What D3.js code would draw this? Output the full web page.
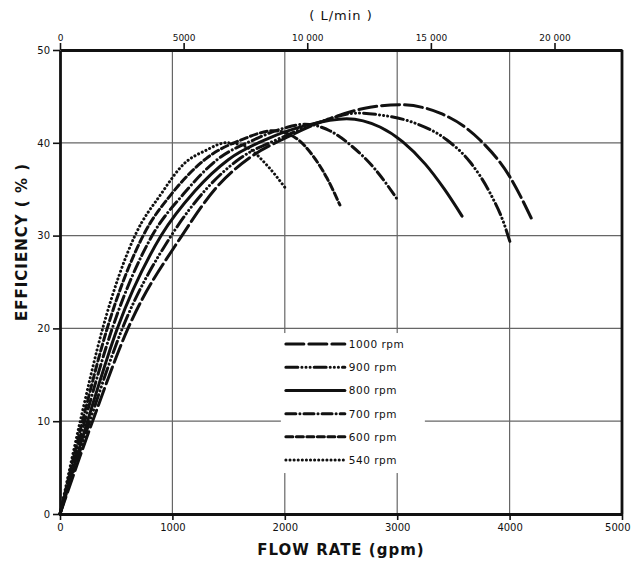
<!DOCTYPE html>
<html>
<head>
<meta charset="utf-8">
<script src="https://cdn.jsdelivr.net/npm/d3@7"></script>
<style>
  body { margin: 0; background: #fff; }
  svg text { font-family: "DejaVu Sans", sans-serif; fill: #111; }
</style>
</head>
<body>
<div id="chart"></div>
<script>
// chart values
const rpmLabels = ["1000 rpm", "900 rpm", "800 rpm", "700 rpm", "600 rpm", "540 rpm"];

// flow rate (gpm) and efficiency (%) for each speed
const flow1000 = [0, 290, 605, 1085, 1400, 1700, 2020, 2400, 2700, 3025, 3381, 3737, 4004, 4200];
const eff1000  = [0, 10, 20, 30, 35.3, 38.5, 40.6, 42.6, 43.7, 44.1, 43.2, 40.3, 36.3, 31.7];

const flow900 = [0, 265, 555, 990, 1300, 1600, 1960, 2300, 2650, 2847, 3140, 3443, 3650, 3830, 3950, 4004];
const eff900  = [0, 10, 20, 30, 35, 38.3, 40.5, 42.2, 43.2, 43.0, 42.2, 40.3, 37.9, 34.5, 31.3, 29.3];

const flow800 = [0, 245, 510, 900, 1200, 1500, 1840, 2200, 2550, 2847, 3050, 3250, 3420, 3577];
const eff800  = [0, 10, 20, 30, 34.8, 38.2, 40.4, 41.9, 42.6, 41.7, 40.1, 37.7, 35.0, 32.1];

const flow700 = [0, 220, 465, 820, 1100, 1400, 1720, 2000, 2180, 2400, 2600, 2800, 3007];
const eff700  = [0, 10, 20, 30, 34.5, 38.2, 40.3, 41.6, 42.0, 41.3, 39.6, 37.2, 33.8];

const flow600 = [0, 200, 420, 740, 1000, 1300, 1630, 1900, 2100, 2250, 2375, 2490];
const eff600  = [0, 10, 20, 30, 34.6, 38.3, 40.4, 41.3, 40.5, 38.6, 36.2, 33.3];

const flow540 = [0, 180, 380, 667, 900, 1100, 1300, 1480, 1650, 1840, 2000];
const eff540  = [0, 10, 20, 30, 34.5, 37.7, 39.2, 40.0, 39.6, 37.6, 35.2];

const flowTicks = [0, 1000, 2000, 3000, 4000, 5000];
const effTicks = [0, 10, 20, 30, 40, 50];
const litreTicks = [0, 5000, 10000, 15000, 20000];
const litreTickLabels = ["0", "5000", "10 000", "15 000", "20 000"];
const LITRES_PER_GALLON = 4.546;

const series = [
  { name: rpmLabels[0], flow: flow1000, eff: eff1000, dash: "18,5" },
  { name: rpmLabels[1], flow: flow900, eff: eff900, dash: "12,4,0.1,4,0.1,4,0.1,4" },
  { name: rpmLabels[2], flow: flow800, eff: eff800, dash: null },
  { name: rpmLabels[3], flow: flow700, eff: eff700, dash: "10,4,0.1,4" },
  { name: rpmLabels[4], flow: flow600, eff: eff600, dash: "7,3.5" },
  { name: rpmLabels[5], flow: flow540, eff: eff540, dash: "0.1,4" }
];

const width = 631, height = 561;
const margin = {top: 50, right: 9, bottom: 47, left: 60};
const w = width - margin.left - margin.right;
const h = height - margin.top - margin.bottom;

const svg = d3.select("#chart").append("svg")
  .attr("width", width)
  .attr("height", height);

const g = svg.append("g")
  .attr("transform", `translate(${margin.left},${margin.top})`);

const x = d3.scaleLinear().domain([0, 5000]).range([0, w]);
const y = d3.scaleLinear().domain([0, 50]).range([h, 0]);
// top axis in litres per minute, same pixel span
const xL = d3.scaleLinear().domain([0, 5000 * LITRES_PER_GALLON]).range([0, w]);

// grid lines
g.append("g").selectAll("line").data(flowTicks.slice(1, -1)).enter()
  .append("line")
  .attr("x1", d => x(d)).attr("x2", d => x(d))
  .attr("y1", 0).attr("y2", h)
  .attr("stroke", "#666").attr("stroke-width", 1.2);

g.append("g").selectAll("line").data(effTicks.slice(1, -1)).enter()
  .append("line")
  .attr("x1", 0).attr("x2", w)
  .attr("y1", d => y(d)).attr("y2", d => y(d))
  .attr("stroke", "#666").attr("stroke-width", 1.2);

// axes
const bottomAxis = g.append("g")
  .attr("transform", `translate(0,${h})`)
  .call(d3.axisBottom(x).tickValues(flowTicks).tickSize(6).tickSizeOuter(0).tickPadding(4)
    .tickFormat(d3.format("d")));

const leftAxis = g.append("g")
  .call(d3.axisLeft(y).tickValues(effTicks).tickSize(7).tickSizeOuter(0).tickPadding(3));

const topAxis = g.append("g")
  .call(d3.axisTop(xL).tickValues(litreTicks).tickSize(7).tickSizeOuter(0).tickPadding(2)
    .tickFormat((d, i) => litreTickLabels[i]));

[bottomAxis, leftAxis, topAxis].forEach(a => {
  a.select(".domain").attr("stroke", "#111").attr("stroke-width", 2.8);
  a.selectAll(".tick line").attr("stroke", "#111").attr("stroke-width", 1.6);
  a.selectAll(".tick text").style("font-size", "10px").attr("fill", "#111");
});
topAxis.selectAll(".tick text").style("font-size", "9px");
// keep the last flow label inside the window
bottomAxis.selectAll(".tick text").filter(d => d === 5000)
  .attr("text-anchor", "end").attr("dx", "8");

// right border
g.append("line")
  .attr("x1", w).attr("x2", w).attr("y1", 0).attr("y2", h)
  .attr("stroke", "#111").attr("stroke-width", 2.8);

// curves
const line = d3.line()
  .x(d => x(d[0]))
  .y(d => y(d[1]))
  .curve(d3.curveMonotoneX);

series.forEach(s => {
  const pts = s.flow.map((f, i) => [f, s.eff[i]]);
  g.append("path")
    .datum(pts)
    .attr("d", line)
    .attr("fill", "none")
    .attr("stroke", "#111")
    .attr("stroke-width", 3)
    .attr("stroke-linecap", "round")
    .attr("stroke-dasharray", s.dash);
});

// legend box
const legend = g.append("g").attr("transform", `translate(${x(1965)},${y(19.5)})`);
legend.append("rect")
  .attr("x", 0).attr("y", 0).attr("width", 144).attr("height", 140)
  .attr("fill", "#fff");
series.forEach((s, i) => {
  const yy = 11 + i * 23.2;
  legend.append("line")
    .attr("x1", 5).attr("x2", 64).attr("y1", yy).attr("y2", yy)
    .attr("stroke", "#111").attr("stroke-width", 3)
    .attr("stroke-linecap", "round")
    .attr("stroke-dasharray", s.dash);
  legend.append("text")
    .attr("x", 68).attr("y", yy + 4)
    .style("font-size", "10.5px")
    .style("letter-spacing", "0.5px")
    .text(s.name);
});

// axis titles
svg.append("text")
  .attr("x", margin.left + w / 2).attr("y", 555)
  .attr("text-anchor", "middle")
  .style("font-size", "15px").style("font-weight", "bold").style("letter-spacing", "1px")
  .text("FLOW RATE (gpm)");

svg.append("text")
  .attr("transform", `translate(27,${margin.top + h / 2 - 40}) rotate(-90)`)
  .attr("text-anchor", "middle")
  .style("font-size", "15px").style("font-weight", "bold").style("letter-spacing", "1px")
  .text("EFFICIENCY ( % )");

svg.append("text")
  .attr("x", margin.left + w / 2).attr("y", 20)
  .attr("text-anchor", "middle")
  .style("font-size", "13px").style("letter-spacing", "1px")
  .text("( L/min )");
</script>
</body>
</html>
